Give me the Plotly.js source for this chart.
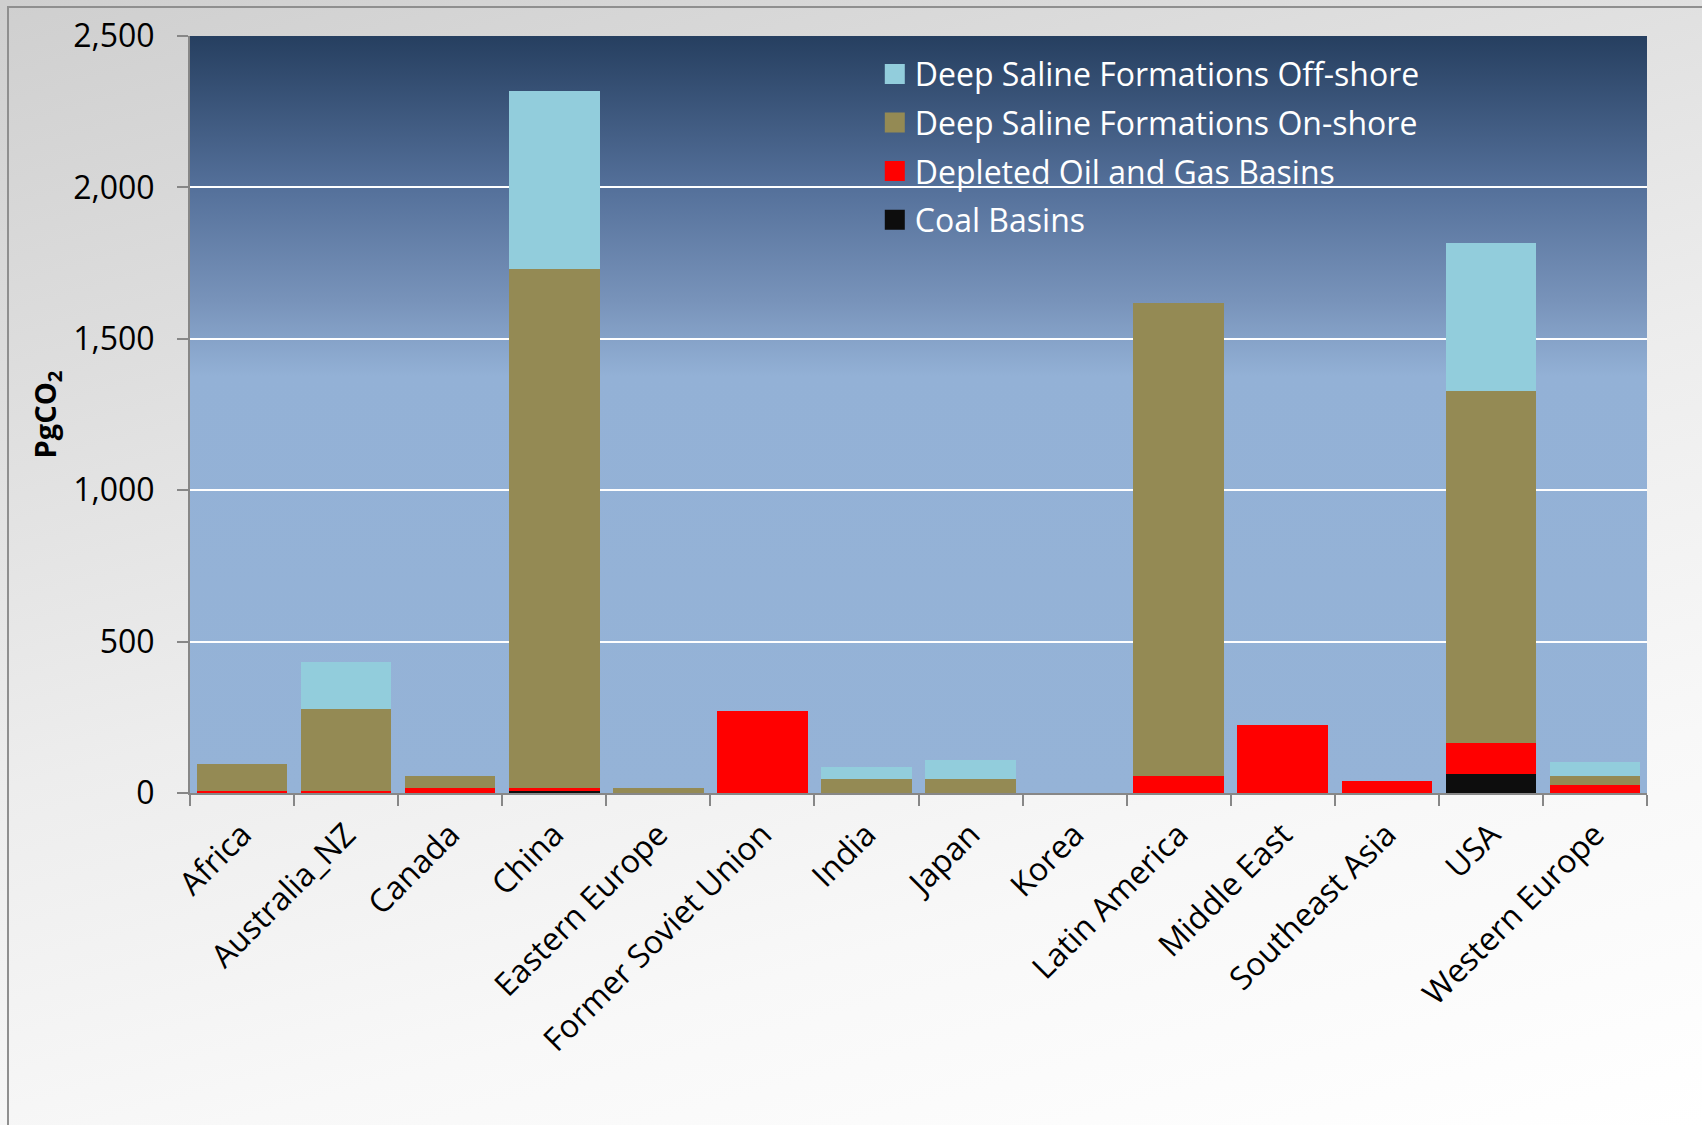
<!DOCTYPE html>
<html>
<head>
<meta charset="utf-8">
<script src="https://cdn.plot.ly/plotly-3.0.1.min.js"></script>
<style>
  html, body { margin: 0; padding: 0; }
  body {
    width: 1702px; height: 1125px; overflow: hidden; position: relative;
    background: linear-gradient(165deg, #cfcfcf 0%, #dedede 25%, #ededed 50%, #f8f8f8 75%, #ffffff 100%);
  }
  #frame {
    position: absolute; left: 7px; top: 6px; width: 1720px; height: 1140px;
    border-left: 2px solid #8f8f8f; border-top: 2px solid #8f8f8f;
  }
  #chart { position: absolute; left: 0; top: 0; width: 1702px; height: 1125px; }
</style>
</head>
<body>
<div id="frame"></div>
<div id="chart"></div>
<script>
const regions = ["Africa", "Australia_NZ", "Canada", "China", "Eastern Europe",
  "Former Soviet Union", "India", "Japan", "Korea", "Latin America",
  "Middle East", "Southeast Asia", "USA", "Western Europe"];

const coalBasins     = [0, 0, 0, 8, 0, 0, 0, 0, 0, 0, 0, 0, 62, 0];
const depletedOilGas = [8, 8, 16, 9, 0, 270, 0, 0, 0, 56, 226, 40, 102, 25];
const salineOnshore  = [87, 271, 40, 1715, 18, 0, 46, 47, 0, 1562, 0, 0, 1163, 31];
const salineOffshore = [0, 153, 0, 585, 0, 0, 40, 63, 0, 0, 0, 0, 491, 45];

const seriesNames = ["Coal Basins", "Depleted Oil and Gas Basins",
  "Deep Saline Formations On-shore", "Deep Saline Formations Off-shore"];
const seriesColors = ["#0d0d0d", "#ff0000", "#948a54", "#92cddc"];
const seriesValues = [coalBasins, depletedOilGas, salineOnshore, salineOffshore];
const legendRanks = [4, 3, 2, 1];

const yTickVals = [0, 500, 1000, 1500, 2000, 2500];
const yTickText = ["0", "500", "1,000", "1,500", "2,000", "2,500"];

const traces = seriesValues.map((vals, i) => ({
  type: "bar",
  x: regions,
  y: vals,
  name: seriesNames[i],
  legendgroup: "g" + i,
  legendrank: legendRanks[i],
  marker: { color: seriesColors[i], line: { width: 0 } },
  hoverinfo: "x+y+name"
}));

const gradSvg = "<svg xmlns='http://www.w3.org/2000/svg' width='100' height='100' preserveAspectRatio='none'>" +
  "<defs><linearGradient id='g' x1='0' y1='0' x2='0' y2='1'>" +
  "<stop offset='0' stop-color='#263f60'/>" +
  "<stop offset='0.2' stop-color='#54709a'/>" +
  "<stop offset='0.35' stop-color='#7893ba'/>" +
  "<stop offset='0.45' stop-color='#93b1d6'/>" +
  "<stop offset='1' stop-color='#95b3d7'/>" +
  "</linearGradient></defs><rect width='100' height='100' fill='url(#g)'/></svg>";
const gradUri = "data:image/svg+xml;charset=utf-8," + encodeURIComponent(gradSvg);

const baseFont = "'Open Sans', 'Noto Sans', sans-serif";

const layout = {
  width: 1702, height: 1125,
  margin: { l: 190, r: 55, t: 36, b: 332, pad: 0 },
  paper_bgcolor: "rgba(0,0,0,0)",
  plot_bgcolor: "rgba(0,0,0,0)",
  barmode: "stack",
  bargap: 0.13,
  font: { family: baseFont, color: "#000000", size: 30 },
  showlegend: true,
  legend: {
    x: 0.470, y: 0.986, xanchor: "left", yanchor: "top",
    bgcolor: "rgba(0,0,0,0)",
    font: { family: baseFont, color: "#ffffff", size: 32 },
    traceorder: "grouped",
    tracegroupgap: 4,
    itemwidth: 30
  },
  images: [{
    source: gradUri, xref: "paper", yref: "paper",
    x: 0, y: 1, sizex: 1, sizey: 1, xanchor: "left", yanchor: "top",
    sizing: "stretch", layer: "below"
  }],
  xaxis: {
    type: "category",
    tickangle: -45,
    tickfont: { family: baseFont, size: 32, color: "#000000" },
    ticklabelstandoff: 8,
    showline: true, linecolor: "#878787", linewidth: 2,
    ticks: "outside", ticklen: 11, tickcolor: "#878787", tickwidth: 2,
    tickson: "boundaries",
    showgrid: false, zeroline: false
  },
  yaxis: {
    range: [0, 2500],
    tickvals: yTickVals, ticktext: yTickText,
    tickfont: { family: baseFont, size: 32, color: "#000000" },
    ticklabelstandoff: 16,
    showline: true, linecolor: "#878787", linewidth: 2,
    ticks: "outside", ticklen: 11, tickcolor: "#878787", tickwidth: 2,
    showgrid: true, gridcolor: "#ffffff", gridwidth: 2,
    zeroline: false,
    title: { text: "<b>PgCO<sub>2</sub></b>", font: { family: baseFont, size: 29, color: "#000000" }, standoff: 8 }
  }
};

Plotly.newPlot("chart", traces, layout, { displayModeBar: false, staticPlot: true }).then(gd => {
  gd.querySelectorAll(".legend .legendpoints path").forEach(p => {
    p.setAttribute("d", "M10,10H-10V-10H10Z");
  });
});
</script>
</body>
</html>
